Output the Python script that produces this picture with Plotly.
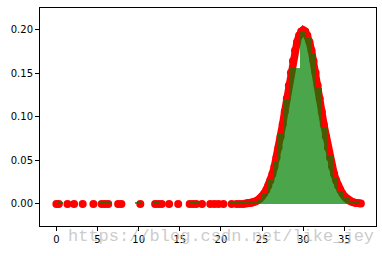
import plotly.graph_objects as go

# red sample points lying on the x axis (pdf ~ 0)
tail_x = [0.0, 0.3, 1.35, 2.15, 3.2, 4.5, 5.5, 5.9, 6.3, 7.5, 7.9, 10.2, 12.0, 12.4, 12.8,
          13.7, 14.8, 16.2, 16.6, 17.0, 17.7, 18.7, 19.2, 19.7, 20.3, 21.3, 21.9, 22.3, 22.7]
tail_y = [0.0] * len(tail_x)

# red sample points along the bell curve
curve_x = [23.0, 23.25, 23.5, 23.75, 24.0, 24.25, 24.5, 24.75, 25.0, 25.25, 25.5, 25.75,
           26.0, 26.25, 26.5, 26.75, 27.0, 27.25, 27.5, 27.75, 28.0, 28.25, 28.5, 28.75,
           29.0, 29.25, 29.5, 29.75, 30.0, 30.25, 30.5, 30.75, 31.0, 31.25, 31.5, 31.75,
           32.0, 32.25, 32.5, 32.75, 33.0, 33.25, 33.5, 33.75, 34.0, 34.25, 34.5, 34.75,
           35.0, 35.25, 35.5, 35.75, 36.0, 36.25, 36.5, 36.75, 37.0]
curve_y = [0.0004, 0.0007, 0.0010, 0.0015, 0.0022, 0.0032, 0.0045, 0.0064, 0.0088, 0.0119,
           0.0159, 0.0209, 0.0270, 0.0344, 0.0431, 0.0533, 0.0648, 0.0775, 0.0913, 0.1059,
           0.1210, 0.1360, 0.1506, 0.1641, 0.1760, 0.1859, 0.1933, 0.1979, 0.1995, 0.1979,
           0.1933, 0.1859, 0.1760, 0.1641, 0.1506, 0.1360, 0.1210, 0.1059, 0.0913, 0.0775,
           0.0648, 0.0533, 0.0431, 0.0344, 0.0270, 0.0209, 0.0159, 0.0119, 0.0088, 0.0064,
           0.0045, 0.0032, 0.0022, 0.0015, 0.0010, 0.0007, 0.0004]

# density histogram (bin centres and heights)
bin_centers = [0.42, 5.67, 6.33, 9.92, 12.21, 16.47, 17.13, 21.42, 22.08, 22.73, 23.39,
               24.04, 24.69, 25.35, 26.00, 26.66, 27.32, 27.97, 28.63, 29.28, 29.94,
               30.60, 31.25, 31.91, 32.56, 33.22, 33.88, 34.53, 35.19, 35.84, 36.50]
bin_heights = [0.0015, 0.0015, 0.0015, 0.0015, 0.0015, 0.0015, 0.0015, 0.0015, 0.0015,
               0.0015, 0.0015, 0.003, 0.006, 0.013, 0.027, 0.049, 0.081, 0.119, 0.156,
               0.156, 0.197, 0.190, 0.172, 0.133, 0.088, 0.055, 0.030, 0.015, 0.007,
               0.003, 0.0015]
bin_width = 0.68

x_ticks = [0, 5, 10, 15, 20, 25, 30, 35]
y_ticks = [0.0, 0.05, 0.10, 0.15, 0.20]
watermark = "https://blog.csdn.net/like_jey"

XR = [-1.99, 38.84]
YR = [-0.0253, 0.2249]

fig = go.Figure()
fig.add_trace(go.Scatter(x=tail_x, y=tail_y, mode="markers",
                         marker=dict(color="#ff0000", size=8), showlegend=False))
fig.add_trace(go.Scatter(x=curve_x, y=curve_y, mode="lines+markers",
                         line=dict(color="#ff0000", width=7.5),
                         marker=dict(color="#ff0000", size=8), showlegend=False))
fig.add_trace(go.Bar(x=bin_centers, y=bin_heights, width=[bin_width] * len(bin_centers),
                     marker=dict(color="rgb(0,128,0)", line=dict(width=0)),
                     opacity=0.7, xaxis="x2", yaxis="y2", showlegend=False))

tickfont = dict(family="DejaVu Sans", size=10, color="#000000")
fig.update_layout(
    width=382, height=256,
    margin=dict(l=40, r=6, t=8, b=30),
    plot_bgcolor="white", paper_bgcolor="white",
    xaxis=dict(range=XR, tickvals=x_ticks, ticks="outside", ticklen=4, tickwidth=1,
               tickcolor="#000", showline=True, linecolor="#000", linewidth=1,
               mirror=True, showgrid=False, zeroline=False, tickfont=tickfont),
    yaxis=dict(range=YR, tickvals=y_ticks, tickformat=".2f", ticks="outside", ticklen=4,
               tickwidth=1, tickcolor="#000", showline=True, linecolor="#000",
               linewidth=1, mirror=True, showgrid=False, zeroline=False, tickfont=tickfont),
    xaxis2=dict(range=XR, overlaying="x", visible=False),
    yaxis2=dict(range=YR, overlaying="y", visible=False),
    bargap=0,
)
fig.add_annotation(text=watermark, xref="paper", yref="paper", x=0.539, y=-0.046,
                   xanchor="center", yanchor="middle", showarrow=False,
                   font=dict(family="Liberation Mono", size=17, color="rgba(190,190,190,0.8)"))

fig.write_html("out.html")
